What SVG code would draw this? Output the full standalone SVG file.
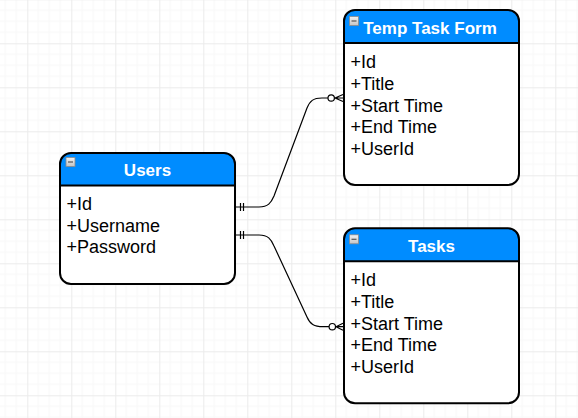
<svg xmlns="http://www.w3.org/2000/svg" width="578" height="418" viewBox="0 0 578 418">
<defs>
<pattern id="grid" patternUnits="userSpaceOnUse" x="27.3" y="43.3" width="44" height="44">
<path d="M11,0V44M22,0V44M33,0V44M0,11H44M0,22H44M0,33H44" stroke="#f7f7f7" stroke-width="1" fill="none"/>
<path d="M0.5,0V44M0,0.5H44" stroke="#ebebeb" stroke-width="1" fill="none"/>
</pattern>
<linearGradient id="btn" x1="0" y1="0" x2="0" y2="1">
<stop offset="0" stop-color="#f2f2f2"/>
<stop offset="1" stop-color="#c4c4c4"/>
</linearGradient>
</defs>
<style>
.body{fill:#ffffff;stroke:none}
.head{fill:#008cff;stroke:none}
.outline{fill:none;stroke:#000;stroke-width:2}
.title{font-family:"Liberation Sans",Arial,sans-serif;font-size:17px;font-weight:bold;fill:#fff;text-anchor:middle}
.attr{font-family:"Liberation Sans",Arial,sans-serif;font-size:18px;fill:#000}
.btn{fill:url(#btn);stroke:#8a8a8a;stroke-width:0.8}
.minus{stroke:#555;stroke-width:1.2}
.edge{fill:none;stroke:#000;stroke-width:1.2}
.circ{fill:#fff;stroke:#000;stroke-width:1.2}
</style>
<rect width="578" height="418" fill="#fff"/>
<rect width="578" height="418" fill="url(#grid)"/>

<g id="connectors">
<path class="edge" d="M236,207 L259,207 C268,207 271,203 274,196 L307,108 C310,101 313,98 322,98 L328,98"/>
<path class="edge" d="M240.5,203 V211 M243.5,203 V211"/>
<circle class="circ" cx="331.2" cy="98" r="3.2"/>
<path class="edge" d="M334.5,98 H343 M335,98 L343,94.5 M335,98 L343,101.5"/>

<path class="edge" d="M236,235 L259,235 C268,235 271,239 274,246 L307,317 C310,324 314,326.7 323,326.7 L329,326.7"/>
<path class="edge" d="M240.5,231 V239 M243.5,231 V239"/>
<circle class="circ" cx="332.3" cy="326.7" r="3.2"/>
<path class="edge" d="M335.6,326.7 H343 M336,326.7 L343,323.2 M336,326.7 L343,330.2"/>
</g>

<g id="users">
<rect class="body" x="60" y="153" width="175" height="131" rx="11"/>
<path class="head" d="M60,185.5 V164 A11,11 0 0 1 71,153 H224 A11,11 0 0 1 235,164 V185.5 Z"/>
<line x1="60" y1="185.5" x2="235" y2="185.5" stroke="#000" stroke-width="2"/>
<rect class="outline" x="60" y="153" width="175" height="131" rx="11"/>
<rect class="btn" x="66" y="157.5" width="9" height="9"/>
<line class="minus" x1="68" y1="162" x2="73" y2="162"/>
<text class="title" x="147.5" y="176">Users</text>
<text class="attr" x="66.5" y="210">+Id</text>
<text class="attr" x="66.5" y="231.7">+Username</text>
<text class="attr" x="66.5" y="253.4">+Password</text>
</g>

<g id="temp-task-form">
<rect class="body" x="344" y="10" width="175" height="175" rx="11"/>
<path class="head" d="M344,43 V21 A11,11 0 0 1 355,10 H508 A11,11 0 0 1 519,21 V43 Z"/>
<line x1="344" y1="43" x2="519" y2="43" stroke="#000" stroke-width="2"/>
<rect class="outline" x="344" y="10" width="175" height="175" rx="11"/>
<rect class="btn" x="349.5" y="16.5" width="9" height="9"/>
<line class="minus" x1="351.5" y1="21" x2="356.5" y2="21"/>
<text class="title" x="430" y="34.3">Temp Task Form</text>
<text class="attr" x="350.5" y="68.3">+Id</text>
<text class="attr" x="350.5" y="90">+Title</text>
<text class="attr" x="350.5" y="111.7">+Start Time</text>
<text class="attr" x="350.5" y="133.4">+End Time</text>
<text class="attr" x="350.5" y="155.1">+UserId</text>
</g>

<g id="tasks">
<rect class="body" x="344" y="228.3" width="175" height="175" rx="11"/>
<path class="head" d="M344,261.3 V239.3 A11,11 0 0 1 355,228.3 H508 A11,11 0 0 1 519,239.3 V261.3 Z"/>
<line x1="344" y1="261.3" x2="519" y2="261.3" stroke="#000" stroke-width="2"/>
<rect class="outline" x="344" y="228.3" width="175" height="175" rx="11"/>
<rect class="btn" x="349.5" y="234.8" width="9" height="9"/>
<line class="minus" x1="351.5" y1="239.3" x2="356.5" y2="239.3"/>
<text class="title" x="431.5" y="252.3">Tasks</text>
<text class="attr" x="350.5" y="286.3">+Id</text>
<text class="attr" x="350.5" y="308">+Title</text>
<text class="attr" x="350.5" y="329.7">+Start Time</text>
<text class="attr" x="350.5" y="351.4">+End Time</text>
<text class="attr" x="350.5" y="373.1">+UserId</text>
</g>
</svg>
